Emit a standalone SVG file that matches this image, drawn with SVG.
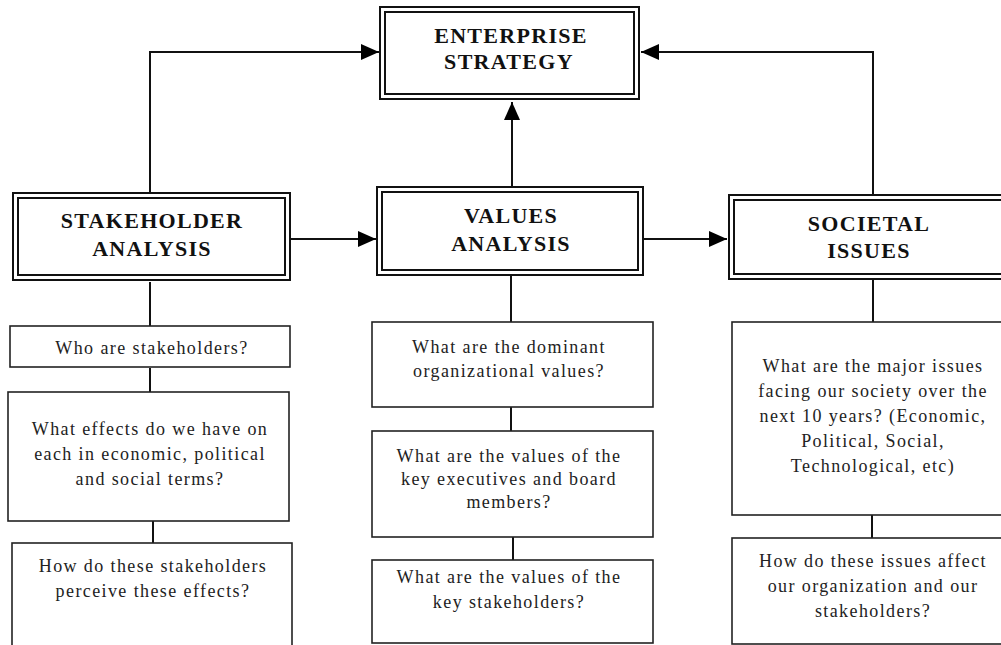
<svg xmlns="http://www.w3.org/2000/svg" width="1001" height="645" viewBox="0 0 1001 645">
<style>
.dbl{fill:#fff;stroke:#111;stroke-width:2}
.box{fill:#fff;stroke:#222;stroke-width:1.6}
.hd{font-family:"Liberation Serif","Times New Roman",serif;font-weight:bold;font-size:22px;letter-spacing:1.3px;fill:#111;text-anchor:middle}
.tx{font-family:"Liberation Serif","Times New Roman",serif;font-size:18px;letter-spacing:1.4px;fill:#222;text-anchor:middle}
.ln{fill:none;stroke:#111;stroke-width:2}
</style>
<defs>
<marker id="ah" markerWidth="18" markerHeight="16" refX="18" refY="8" orient="auto" markerUnits="userSpaceOnUse">
<path d="M0,0 L18,8 L0,16 Z" fill="#000"/>
</marker>
</defs>
<rect width="1001" height="645" fill="#fff"/>
<g id="connectors">
<polyline class="ln" points="150,193 150,52 379,52" marker-end="url(#ah)"/>
<polyline class="ln" points="873,194 873,52 641,52" marker-end="url(#ah)"/>
<line class="ln" x1="512" y1="187" x2="512" y2="102" marker-end="url(#ah)"/>
<line class="ln" x1="291" y1="239" x2="376" y2="239" marker-end="url(#ah)"/>
<line class="ln" x1="644" y1="239" x2="727" y2="239" marker-end="url(#ah)"/>
<line class="ln" x1="150" y1="282" x2="150" y2="326"/>
<line class="ln" x1="150" y1="368" x2="150" y2="392"/>
<line class="ln" x1="153" y1="521" x2="153" y2="543"/>
<line class="ln" x1="511" y1="276" x2="511" y2="322"/>
<line class="ln" x1="511" y1="407" x2="511" y2="431"/>
<line class="ln" x1="513" y1="537" x2="513" y2="560"/>
<line class="ln" x1="873" y1="280" x2="873" y2="322"/>
<line class="ln" x1="872" y1="515" x2="872" y2="538"/>
</g>
<g id="enterprise">
<rect class="dbl" x="380" y="7" width="259" height="92"/>
<rect class="dbl" x="385" y="12" width="249" height="82"/>
<text class="hd" x="511" y="43">ENTERPRISE</text>
<text class="hd" x="509" y="69">STRATEGY</text>
</g>
<g id="stakeholder">
<rect class="dbl" x="13" y="193" width="277" height="87"/>
<rect class="dbl" x="18" y="198" width="267" height="77"/>
<text class="hd" x="152" y="228">STAKEHOLDER</text>
<text class="hd" x="152" y="256">ANALYSIS</text>
</g>
<g id="values">
<rect class="dbl" x="377" y="187" width="266" height="88"/>
<rect class="dbl" x="382" y="192" width="256" height="78"/>
<text class="hd" x="511" y="223">VALUES</text>
<text class="hd" x="511" y="251">ANALYSIS</text>
</g>
<g id="societal">
<rect class="dbl" x="729" y="195" width="290" height="84"/>
<rect class="dbl" x="734" y="200" width="280" height="74"/>
<text class="hd" x="869" y="231">SOCIETAL</text>
<text class="hd" x="869" y="258">ISSUES</text>
</g>
<g id="s1">
<rect class="box" x="10" y="326" width="280" height="41"/>
<text class="tx" x="152" y="354">Who are stakeholders?</text>
</g>
<g id="s2">
<rect class="box" x="8" y="392" width="281" height="129"/>
<text class="tx" x="150" y="435">What effects do we have on</text>
<text class="tx" x="150" y="460">each in economic, political</text>
<text class="tx" x="150" y="485">and social terms?</text>
</g>
<g id="s3">
<rect class="box" x="12" y="543" width="280" height="120"/>
<text class="tx" x="153" y="572">How do these stakeholders</text>
<text class="tx" x="153" y="597">perceive these effects?</text>
</g>
<g id="v1">
<rect class="box" x="372" y="322" width="281" height="85"/>
<text class="tx" x="509" y="353">What are the dominant</text>
<text class="tx" x="509" y="377">organizational values?</text>
</g>
<g id="v2">
<rect class="box" x="372" y="431" width="281" height="106"/>
<text class="tx" x="509" y="462">What are the values of the</text>
<text class="tx" x="509" y="485">key executives and board</text>
<text class="tx" x="509" y="508">members?</text>
</g>
<g id="v3">
<rect class="box" x="372" y="560" width="281" height="83"/>
<text class="tx" x="509" y="583">What are the values of the</text>
<text class="tx" x="509" y="608">key stakeholders?</text>
</g>
<g id="i1">
<rect class="box" x="732" y="322" width="282" height="193"/>
<text class="tx" x="873" y="372">What are the major issues</text>
<text class="tx" x="873" y="397">facing our society over the</text>
<text class="tx" x="873" y="422">next 10 years? (Economic,</text>
<text class="tx" x="873" y="447">Political, Social,</text>
<text class="tx" x="873" y="472">Technological, etc)</text>
</g>
<g id="i2">
<rect class="box" x="732" y="538" width="282" height="106"/>
<text class="tx" x="873" y="567">How do these issues affect</text>
<text class="tx" x="873" y="592">our organization and our</text>
<text class="tx" x="873" y="617">stakeholders?</text>
</g>
</svg>
